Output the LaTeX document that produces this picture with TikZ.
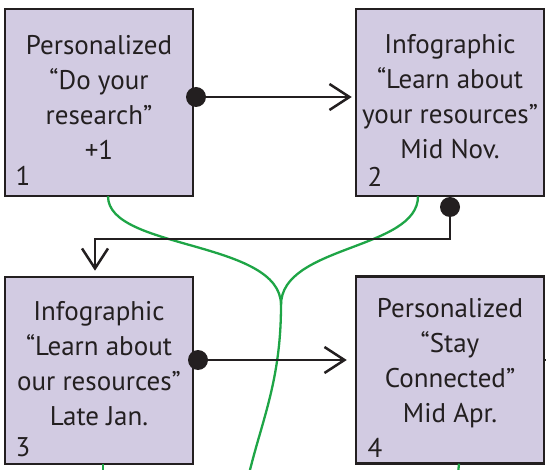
\documentclass[tikz,border=0pt]{standalone}
\usepackage{fontspec}
\setmainfont{PT Sans}
\usetikzlibrary{arrows.meta}
\definecolor{lav}{RGB}{210,203,226}
\definecolor{ink}{RGB}{35,31,32}
\definecolor{vine}{RGB}{30,165,70}
\begin{document}
\begin{tikzpicture}[x=1pt,y=-1pt,
  box/.style={draw=ink, line width=2.5pt, fill=lav, minimum width=188pt, minimum height=187pt, inner sep=0pt},
  txt/.style={align=center, text=ink, font=\fontsize{27}{35}\selectfont, inner sep=0pt},
  num/.style={text=ink, font=\fontsize{27}{30}\selectfont, inner sep=0pt},
  conn/.style={draw=ink, line width=2.5pt, -{Straight Barb[length=20pt,width=26pt]}},
  dotc/.style={circle, fill=ink, minimum size=20pt, inner sep=0pt},
  vineline/.style={draw=vine, line width=2.3pt}]
\useasboundingbox (0,0) rectangle (546,470);
% boxes
\node[box] (b1) at (99,102.5) {};
\node[box] (b2) at (450,102.5) {};
\node[box] (b3) at (99,370.5) {};
\node[box] (b4) at (450,370) {};
% green lines
\coordinate (m) at (281,305);
\coordinate (g0) at (249,474);
\coordinate (g3) at (103,474);
\coordinate (g4) at (458,474);
\draw[vineline] ([xshift=9pt,yshift=1pt]b1.south) .. controls (108,250) and (281,240) .. (m);
\draw[vineline] ([xshift=-32pt,yshift=1pt]b2.south) .. controls (418,250) and (281,245) .. (m);
\draw[vineline] (m) .. controls (281,380) and (262,420) .. (g0);
\draw[vineline] ([xshift=4pt,yshift=1pt]b3.south) -- (g3);
\draw[vineline] ([xshift=9pt,yshift=1pt]b4.south) -- (g4);
% texts
\node[txt] (t1) at (99,97.5) {Personalized\\“Do your\\research”\\+1};
\node[txt] (t2) at (450,97) {Infographic\\“Learn about\\your resources”\\Mid Nov.};
\node[txt] (t3) at (99,364) {Infographic\\“Learn about\\our resources”\\Late Jan.};
\node[txt] (t4) at (450,363.5) {Personalized\\“Stay\\Connected”\\Mid Apr.};
\node[num] (n1) at (23,176) {1};
\node[num] (n2) at (375,177) {2};
\node[num] (n3) at (23,447) {3};
\node[num] (n4) at (375,448) {4};
% connectors
\coordinate (p1) at (196,97);
\coordinate (p2) at (450,207);
\coordinate (p3) at (198,360);
\coordinate (k) at (95,239);
\coordinate (e4) at (552,360);
\draw[conn] (p1) -- ([xshift=-3pt]b2.west |- p1);
\draw[conn] (p2) |- (k) -- ([yshift=5pt]b3.north -| k);
\draw[conn] (p3) -- ([xshift=-8pt]b4.west |- p3);
\draw[draw=ink, line width=2.5pt] (b4.east |- e4) -- (e4);
\node[dotc] (d1) at (p1) {};
\node[dotc] (d2) at (p2) {};
\node[dotc] (d3) at (p3) {};
\end{tikzpicture}
\end{document}
